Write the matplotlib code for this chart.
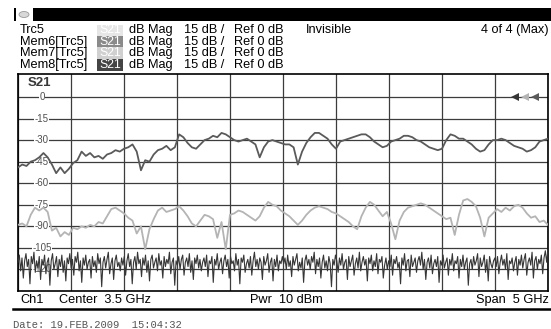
import numpy as np
import matplotlib
matplotlib.use("Agg")
import matplotlib.pyplot as plt
from matplotlib.patches import Rectangle, Circle

W, H = 551, 329

# sweep: center 3.5 GHz, span 5 GHz
f_start, f_stop = 1.0, 6.0
ref_levels = [0, -15, -30, -45, -60, -75, -90, -105, -120]

# Mem6 trace (dB)
mem6_db = [
    -49, -47, -48, -45, -44, -42, -39, -42, -47, -53, -49, -53, -50, -46, -44, -38,
    -41, -39, -42, -41, -43, -40, -39, -37, -38, -36, -35, -33, -38, -51, -44, -45,
    -40, -37, -36, -34, -37, -35, -26, -28, -32, -35, -36, -33, -30, -29, -27, -28,
    -25, -26, -28, -30, -31, -30, -29, -31, -33, -42, -35, -31, -30, -31, -32, -33,
    -33, -35, -47, -38, -32, -28, -25, -25, -27, -29, -33, -36, -31, -30, -29, -28,
    -27, -26, -26, -28, -31, -33, -35, -34, -31, -30, -29, -27, -27, -28, -30, -31,
    -33, -35, -36, -37, -36, -30, -26, -27, -29, -29, -31, -33, -36, -38, -37, -33,
    -30, -30, -29, -30, -32, -34, -35, -36, -38, -37, -35, -31, -30, -29,
]

# Mem7 trace (dB)
mem7_db = [
    -89, -88, -90, -82, -77, -79, -77, -80, -93, -91, -97, -94, -96, -91, -92, -90,
    -91, -89, -90, -87, -88, -83, -78, -77, -79, -81, -84, -86, -95, -90, -106, -92,
    -85, -79, -77, -80, -79, -78, -76, -79, -83, -88, -90, -86, -82, -83, -85, -98,
    -87, -106, -82, -81, -79, -80, -82, -84, -86, -83, -77, -73, -75, -76, -79, -81,
    -83, -86, -89, -86, -82, -79, -77, -76, -77, -78, -80, -81, -83, -85, -87, -90,
    -92, -83, -77, -73, -75, -79, -83, -80, -88, -99, -86, -80, -77, -76, -75, -74,
    -75, -77, -79, -81, -83, -85, -84, -96, -82, -72, -71, -73, -76, -84, -97, -84,
    -81, -78, -80, -77, -79, -76, -75, -77, -81, -84, -83, -87, -86, -89,
]

# Mem8 trace (dB), noise floor
mem8_db = [
    -115, -110, -121, -112, -126, -114, -109, -118, -113, -130, -111, -116, -108, -122, -114, -119, -111, -127, -113, -117,
    -110, -123, -115, -112, -131, -114, -109, -120, -116, -111, -125, -113, -118, -110, -122, -114, -128, -112, -116, -109,
    -119, -113, -124, -111, -115, -108, -121, -114, -129, -112, -117, -110, -120, -115, -113, -126, -111, -118, -114, -122,
    -109, -116, -112, -132, -115, -111, -119, -113, -108, -123, -116, -112, -127, -114, -110, -118, -115, -121, -112, -117,
    -111, -124, -114, -109, -118, -113, -130, -115, -111, -120, -108, -116, -113, -125, -112, -117, -110, -122, -114, -128,
    -113, -110, -119, -115, -112, -121, -109, -117, -114, -126, -111, -118, -113, -116, -108, -123, -115, -112, -131, -114,
    -117, -111, -120, -113, -110, -124, -115, -112, -118, -109, -122, -114, -127, -112, -116, -110, -119, -113, -121, -115,
    -112, -118, -110, -125, -114, -116, -111, -129, -113, -117, -109, -120, -115, -112, -123, -114, -110, -118, -113, -126,
    -111, -116, -114, -121, -109, -117, -113, -130, -112, -115, -110, -122, -116, -113, -119, -111, -124, -114, -108, -118,
    -113, -120, -112, -115, -127, -111, -117, -114, -109, -122, -115, -112, -128, -113, -118, -110, -121, -114, -116, -111,
    -116, -112, -120, -110, -118, -114, -125, -111, -117, -113, -109, -121, -115, -119, -112, -129, -114, -110, -117, -113,
    -120, -111, -115, -108, -123, -113, -118, -112, -126, -115, -110, -119, -114, -121, -111, -116, -132, -113, -117, -110,
    -114, -122, -112, -117, -109, -120, -115, -113, -127, -111, -118, -114, -110, -124, -116, -112, -119, -108, -121, -115,
    -111, -117, -113, -128, -112, -116, -110, -121, -114, -118, -109, -123, -113, -115, -111, -126, -117, -112, -120, -114,
    -118, -110, -124, -113, -116, -111, -119, -115, -130, -112, -117, -109, -121, -114, -113, -125, -110, -118, -115, -112,
    -122, -114, -111, -117, -108, -120, -113, -127, -115, -112, -119, -110, -123, -116, -113, -118, -111, -129, -114, -117,
    -110, -119, -115, -112, -124, -113, -117, -109, -121, -114, -116, -111, -126, -113, -118, -110, -120, -115, -112, -131,
    -116, -113, -120, -111, -117, -114, -109, -125, -112, -118, -115, -110, -122, -113, -128, -111, -116, -119, -114, -112,
    -118, -111, -123, -115, -110, -117, -113, -120, -109, -127, -114, -116, -112, -121, -115, -111, -124, -113, -117, -110,
    -119, -113, -109, -124, -115, -112, -117, -108, -126, -114, -111, -120, -113, -116, -110, -123, -112, -107, -115, -106,
]

header_rows = ["Trc5", "Mem6[Trc5]", "Mem7[Trc5]", "Mem8[Trc5]"]
swatch_colors = ["#e6e6e6", "#8a8a8a", "#d0d0d0", "#444444"]
trace_colors = {"mem6": "#5a5a5a", "mem7": "#b4b4b4", "mem8": "#363636"}

FONT = "Liberation Sans"


def fx(x):
    return x / W


def fy(y):
    return 1 - y / H


fig = plt.figure(figsize=(W / 100, H / 100), dpi=100)
fig.patch.set_facecolor("white")

# header bar
fig.add_artist(Rectangle((fx(33), fy(21)), fx(551) - fx(33), fy(8) - fy(21),
                         transform=fig.transFigure, color="black", lw=0))
fig.add_artist(Rectangle((fx(14), fy(21)), fx(2), fy(8) - fy(21),
                         transform=fig.transFigure, color="black", lw=0))
fig.add_artist(Circle((fx(24), fy(14.5)), fx(5), transform=fig.transFigure,
                      facecolor="#d8d8d8", edgecolor="#999999", lw=0.6))

row_y = [30, 42, 53, 65]
for i, (name, sw) in enumerate(zip(header_rows, swatch_colors)):
    y = row_y[i]
    fig.text(fx(20), fy(y), name, fontsize=9.2, family=FONT, va="center", ha="left")
    fig.add_artist(Rectangle((fx(97), fy(y + 5.5)), fx(26), fy(y - 5.5) - fy(y + 5.5),
                             transform=fig.transFigure, color=sw, lw=0))
    fig.text(fx(110), fy(y), "S21", fontsize=8.8, family=FONT, color="white",
             va="center", ha="center")
    fig.text(fx(129), fy(y), "dB Mag", fontsize=9.2, family=FONT, va="center")
    fig.text(fx(184), fy(y), "15 dB /", fontsize=9.2, family=FONT, va="center")
    fig.text(fx(234), fy(y), "Ref 0 dB", fontsize=9.2, family=FONT, va="center")
fig.text(fx(306), fy(row_y[0]), "Invisible", fontsize=9.2, family=FONT, va="center")
fig.text(fx(549), fy(row_y[0]), "4 of 4 (Max)", fontsize=9.2, family=FONT,
         va="center", ha="right")

# diagram area
ax = fig.add_axes([fx(18), fy(291), fx(548) - fx(18), fy(74) - fy(291)])
ax.set_xlim(f_start, f_stop)
ax.set_ylim(-135, 16)
ax.set_xticks(np.linspace(f_start, f_stop, 11))
ax.set_yticks(ref_levels)
ax.tick_params(length=0, labelbottom=False, labelleft=False)
ax.grid(True, color="#3c3c3c", lw=0.9)
ax.set_axisbelow(True)
for s in ax.spines.values():
    s.set_color("black")
    s.set_linewidth(1.2)

lab_x = f_start + 0.225
for lv in ref_levels:
    ax.text(lab_x, lv, str(lv), fontsize=7, family=FONT, color="#505050",
            ha="center", va="center", zorder=2,
            bbox=dict(facecolor="white", edgecolor="none", pad=0.4))
ax.text(f_start + 0.2, 10, "S21", fontsize=9.5, family=FONT, weight="bold",
        color="#383838", ha="center", va="center")

f6 = np.linspace(f_start, f_stop, len(mem6_db))
f7 = np.linspace(f_start, f_stop, len(mem7_db))
f8 = np.linspace(f_start, f_stop, len(mem8_db))
ax.plot(f8, mem8_db, color=trace_colors["mem8"], lw=0.8, zorder=3)
ax.plot(f7, mem7_db, color=trace_colors["mem7"], lw=1.3, zorder=4)
ax.plot(f6, mem6_db, color=trace_colors["mem6"], lw=1.3, zorder=5)

# reference level arrows
for k, c in enumerate([trace_colors["mem8"], trace_colors["mem7"], trace_colors["mem6"]]):
    ax.plot(f_stop - 0.31 + k * 0.094, 0, marker="<", ms=6, color=c,
            markeredgewidth=0, zorder=6)

# channel info line
fig.text(fx(20), fy(300), "Ch1", fontsize=9.2, family=FONT, va="center")
fig.text(fx(59), fy(300), "Center  3.5 GHz", fontsize=9.2, family=FONT, va="center")
fig.text(fx(250), fy(300), "Pwr  10 dBm", fontsize=9.2, family=FONT, va="center")
fig.text(fx(549), fy(300), "Span  5 GHz", fontsize=9.2, family=FONT, va="center", ha="right")
fig.add_artist(plt.Line2D([fx(13), fx(551)], [fy(309), fy(309)],
                          transform=fig.transFigure, color="black", lw=1.8))

fig.text(fx(13), fy(325), "Date: 19.FEB.2009  15:04:32", fontsize=7.6,
         family="Liberation Mono", color="#555555", va="center")

fig.savefig("out.png", dpi=100)
